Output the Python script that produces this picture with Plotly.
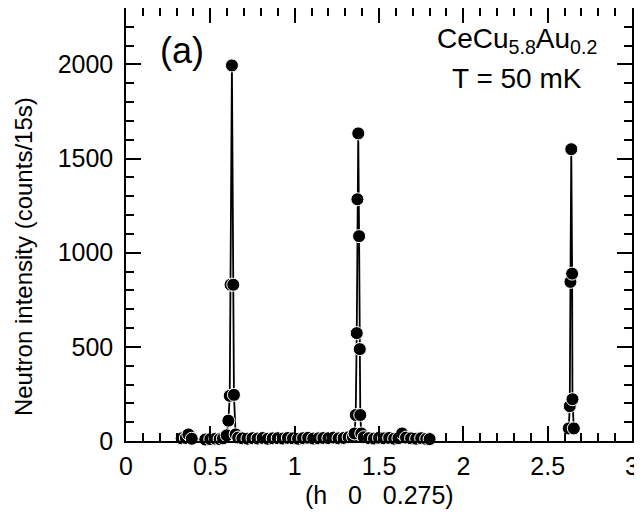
import plotly.graph_objects as go

# Broad scan along (h 0 0.275), including peaks near h~0.63 and h~1.38
scan_h = [0.33, 0.355, 0.37, 0.39,
          0.47, 0.50, 0.53, 0.555, 0.575, 0.597,
          0.607, 0.615, 0.620, 0.628, 0.636, 0.640, 0.650,
          0.665, 0.69, 0.72, 0.75, 0.78, 0.81, 0.84, 0.87, 0.90, 0.93,
          0.96, 0.99, 1.02, 1.05, 1.08, 1.11, 1.14, 1.17, 1.20, 1.23,
          1.26, 1.29, 1.32, 1.345,
          1.355, 1.362, 1.368, 1.372, 1.377, 1.382, 1.386, 1.389, 1.395,
          1.41, 1.44, 1.47, 1.50, 1.53, 1.56, 1.59, 1.615, 1.637, 1.66,
          1.69, 1.72, 1.75, 1.78, 1.80]
scan_counts = [14, 16, 35, 12,
               8, 10, 12, 10, 14, 30,
               108, 240, 830, 1995, 830, 245, 35,
               18, 14, 12, 15, 13, 16, 12, 14, 15, 13,
               16, 14, 12, 15, 17, 13, 14, 16, 15, 18,
               14, 16, 20, 22,
               40, 138, 573, 1284, 1634, 1088, 488, 138, 40,
               20, 15, 13, 17, 14, 16, 12, 15, 40, 18,
               14, 12, 15, 11, 10]

# Fine scan across the peak near h~2.64
peak3_h = [2.625, 2.631, 2.635, 2.640, 2.645, 2.647, 2.655]
peak3_counts = [67, 185, 845, 1550, 889, 222, 67]

x_ticks = [0, 0.5, 1, 1.5, 2, 2.5, 3]
x_tick_text = ["0", "0.5", "1", "1.5", "2", "2.5", "3"]
y_ticks = [0, 500, 1000, 1500, 2000]
y_tick_text = ["0", "500", "1000", "1500", "2000"]

FONT = "Arial, Liberation Sans, Helvetica, sans-serif"

marker = dict(color="black", size=13, line=dict(color="white", width=1))
line = dict(color="black", width=1.8)

fig = go.Figure()
fig.add_trace(go.Scatter(x=scan_h, y=scan_counts, mode="lines+markers",
                         marker=marker, line=line, showlegend=False, cliponaxis=False))
fig.add_trace(go.Scatter(x=peak3_h, y=peak3_counts, mode="lines+markers",
                         marker=marker, line=line, showlegend=False, cliponaxis=False))

axis_common = dict(showline=True, linecolor="black", linewidth=1.5,
                   mirror="ticks", ticks="inside", ticklen=15, tickwidth=1.5,
                   tickcolor="black", showgrid=False, zeroline=False, automargin=False,
                   tickfont=dict(family=FONT, size=25, color="black"))

fig.update_xaxes(range=[0, 3], tickvals=x_ticks, ticktext=x_tick_text,
                 minor=dict(ticks="inside", ticklen=8, dtick=0.1, tickwidth=1.5,
                            tickcolor="black", showgrid=False),
                 ticklabelstandoff=2,
                 **axis_common)
fig.update_yaxes(range=[0, 2300], tickvals=y_ticks, ticktext=y_tick_text,
                 minor=dict(ticks="inside", ticklen=8, dtick=100, tickwidth=1.5,
                            tickcolor="black", showgrid=False),
                 ticklabelstandoff=6,
                 **axis_common)

# Axis titles
fig.add_annotation(x=0.5, y=-0.1247, xref="paper", yref="paper",
                   text="(h   0   0.275)", showarrow=False,
                   xanchor="center", yanchor="middle",
                   font=dict(family=FONT, size=25, color="black"))
fig.add_annotation(x=-0.2036, y=0.427, xref="paper", yref="paper",
                   text="Neutron intensity (counts/15s)", showarrow=False,
                   textangle=-90, xanchor="center", yanchor="middle",
                   font=dict(family=FONT, size=24, color="black"))

# In-plot labels
fig.add_annotation(x=0.11, y=0.903, xref="paper", yref="paper", text="(a)",
                   showarrow=False, xanchor="center", yanchor="middle",
                   font=dict(family=FONT, size=36, color="black"))
fig.add_annotation(x=0.773, y=0.926, xref="paper", yref="paper",
                   text="CeCu<sub>5.8</sub>Au<sub>0.2</sub>",
                   showarrow=False, xanchor="center", yanchor="middle",
                   font=dict(family=FONT, size=28, color="black"))
fig.add_annotation(x=0.773, y=0.838, xref="paper", yref="paper", text="T = 50 mK",
                   showarrow=False, xanchor="center", yanchor="middle",
                   font=dict(family=FONT, size=28, color="black"))

# The page body adds an 8 px offset, so the figure is sized to fit the window
fig.update_layout(width=634, height=501, paper_bgcolor="white", plot_bgcolor="white",
                  margin=dict(l=118, r=10, t=0, b=68))

fig.write_html("out.html")
